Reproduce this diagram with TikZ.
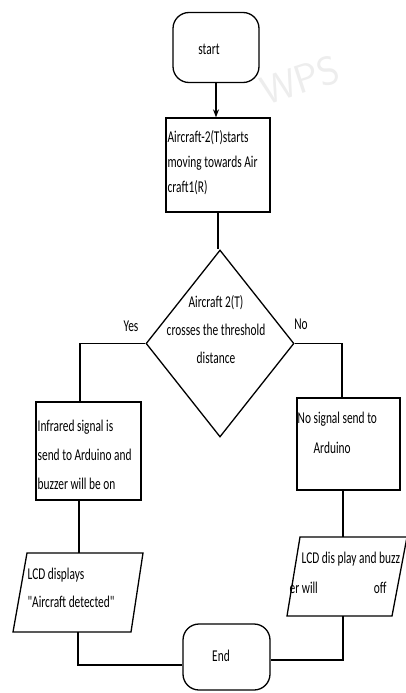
\documentclass[tikz,border=0pt]{standalone}
\usepackage{fontspec}
\setmainfont{Carlito}
\newfontfamily\narrowfont[FakeStretch=0.69]{Carlito}
\usetikzlibrary{arrows.meta,shapes.geometric}
\begin{document}
\begin{tikzpicture}[x=1pt,y=-1pt,line width=1.3pt,
  txt/.style={font=\narrowfont\fontsize{16.5}{#1}\selectfont,inner sep=0pt,align=left},
  txt/.default=25,
  term/.style={draw,rounded corners=16pt,minimum width=#1,minimum height=68pt},
  procbox/.style={draw,inner sep=0pt},
  conn/.style={line width=1.3pt},
  wm/.style={text=black!7,font=\sffamily\fontsize{40}{40}\selectfont,inner sep=0pt}]
\useasboundingbox (0,0) rectangle (406,693);
\fill[white] (0,0) rectangle (406,693);
% watermark
\node[wm,rotate=18] (wmark) at (300,80) {WPS};
% start
\node[term=86pt,minimum height=70pt] (start) at (216,47.5) {};
\node[txt] (starttxt) at (209,49) {start};
% process
\node[procbox,minimum width=104pt,minimum height=94pt] (proc) at (218,165) {};
\node[txt=25,anchor=north west] (proctxt) at (167,130) {Aircraft-2(T)starts\\moving towards Air\\craft1(R)};
% decision
\node[draw,diamond,minimum width=148pt,minimum height=187pt,inner sep=0pt] (dec) at (220,343.5) {};
\node[txt=28,align=center] (dectxt) at (216,330) {Aircraft 2(T)\\crosses the threshold\\distance};
\node[txt] (yes) at (131,326) {Yes};
\node[txt] (no) at (301,324) {No};
% left box
\node[procbox,minimum width=105pt,minimum height=98pt] (lbox) at (88.5,451) {};
\node[txt=29,anchor=north west] (lboxtxt) at (37,419) {Infrared signal is\\send to Arduino and\\buzzer will be on};
% right box
\node[procbox,minimum width=103pt,minimum height=92pt] (rbox) at (348.5,444) {};
\node[txt=30,anchor=north west] (rboxtxt) at (297,411) {No signal send to\\\hspace*{16pt}Arduino};
% left parallelogram
\coordinate (lp1) at (27,553);
\coordinate (lp2) at (143,553);
\coordinate (lp3) at (131,632);
\coordinate (lp4) at (13,632);
\draw (lp1) -- (lp2) -- (lp3) -- (lp4) -- cycle;
\node[txt=28,anchor=north west] (lptxt) at (27,567) {LCD displays\\"Aircraft detected"};
% right parallelogram
\coordinate (rp1) at (300,537);
\coordinate (rp2) at (407,537);
\coordinate (rp3) at (392,616);
\coordinate (rp4) at (287,616);
\draw (rp1) -- (rp2) -- (rp3) -- (rp4) -- cycle;
\node[txt,anchor=west] (rptxta) at (301,559) {LCD dis play and buzz};
\node[txt,anchor=west] (rptxtb) at (289,588) {er will\hspace*{56pt}off};
% end
\node[term=87pt,minimum height=66pt] (endn) at (226.5,657) {};
\node[txt] (endtxt) at (221,656) {End};
% connectors
\draw[conn,-{Stealth[length=8pt,width=6pt]}] (start.south) -- (start.south |- proc.north);
\draw[conn] (proc.south) -- (proc.south |- dec.north);
\coordinate (ltop) at (80,402);
\draw[conn] (dec.west) -| (ltop);
\coordinate (rtop) at (342,398);
\draw[conn] (dec.east) -| (rtop);
\coordinate (lbot) at (79,500);
\coordinate (lpt) at (79,553);
\draw[conn] (lbot) -- (lpt);
\coordinate (rbot) at (343,490);
\coordinate (rpt) at (343,537);
\draw[conn] (rbot) -- (rpt);
\coordinate (lpb) at (78,632);
\draw[conn] (lpb) |- ([yshift=-8pt]endn.west);
\coordinate (rpb) at (343,616);
\draw[conn] (rpb) |- ([yshift=-3pt]endn.east);
\end{tikzpicture}
\end{document}
